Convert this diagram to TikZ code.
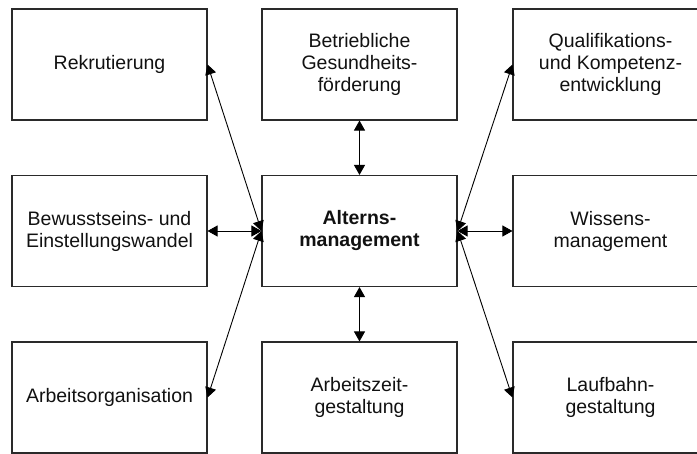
\documentclass[tikz,border=0pt]{standalone}
\usepackage{fontspec}
\setmainfont{Liberation Sans}
\usetikzlibrary{arrows.meta}
\definecolor{boxline}{HTML}{2A2A2A}
\definecolor{ink}{HTML}{111111}
\tikzset{
  fieldbox/.style={draw=boxline, line width=1.1pt, rectangle,
    minimum width=195pt, minimum height=111pt, inner sep=0pt,
    align=center, text=ink, font=\fontsize{19.5}{22}\selectfont},
  link/.style={line width=0.9pt, draw=black,
    {Triangle[length=10pt,width=11pt]}-{Triangle[length=10pt,width=11pt]}}
}
\begin{document}
\begin{tikzpicture}[x=1pt,y=-1pt]
  \clip (0,0) rectangle (697,454);
  \useasboundingbox (0,0) rectangle (697,454);
  % top row
  \node[fieldbox] (rek) at (109.5,64.5) {Rekrutierung};
  \node[fieldbox] (bgf) at (359.5,64.5) {Betriebliche\\Gesundheits-\\förderung};
  \node[fieldbox] (qk)  at (610.5,64.5) {Qualifikations-\\und Kompetenz-\\entwicklung};
  % middle row
  \node[fieldbox] (bew) at (109.5,231) {Bewusstseins- und\\Einstellungswandel};
  \node[fieldbox, font=\fontsize{19.5}{22}\selectfont\bfseries] (am) at (359.5,231) {Alterns-\\management};
  \node[fieldbox] (wm)  at (610.5,231) {Wissens-\\management};
  % bottom row
  \node[fieldbox] (ao)  at (109.5,397.5) {Arbeitsorganisation};
  \node[fieldbox] (az)  at (359.5,397.5) {Arbeitszeit-\\gestaltung};
  \node[fieldbox] (lb)  at (610.5,397.5) {Laufbahn-\\gestaltung};
  % connectors from the centre
  \draw[link] (am.west) -- (rek.east);
  \draw[link] (am.west) -- (bew.east);
  \draw[link] (am.west) -- (ao.east);
  \draw[link] (am.north) -- (bgf.south);
  \draw[link] (am.south) -- (az.north);
  \draw[link] (am.east) -- (qk.west);
  \draw[link] (am.east) -- (wm.west);
  \draw[link] (am.east) -- (lb.west);
\end{tikzpicture}
\end{document}
